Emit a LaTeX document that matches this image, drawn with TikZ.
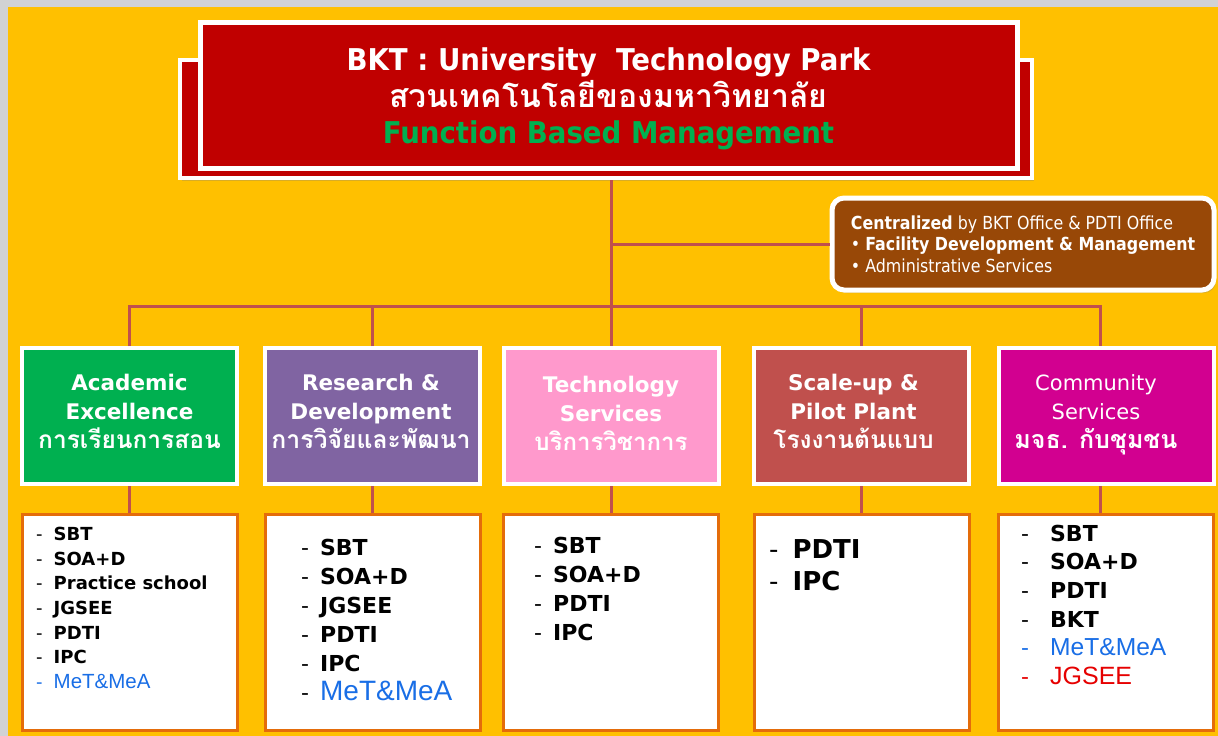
\documentclass[tikz,border=0pt]{standalone}
\usepackage{fontspec}
\setmainfont{DejaVu Sans}
\newfontfamily\verd{DejaVu Sans}
\newfontfamily\taho[FakeStretch=0.88]{DejaVu Sans}
\newfontfamily\narrowf[FakeStretch=0.92]{DejaVu Sans}
\newfontfamily\arialf{Liberation Sans}
\newfontfamily\thai[Script=Thai]{Loma}
\usetikzlibrary{shadows}
\definecolor{bgyellow}{HTML}{FFC000}
\definecolor{bggray}{HTML}{D1D2D4}
\definecolor{titlered}{HTML}{C00000}
\definecolor{fgreen}{HTML}{00B050}
\definecolor{conncol}{HTML}{C0504D}
\definecolor{cbrown}{HTML}{984807}
\definecolor{cpurple}{HTML}{8064A2}
\definecolor{cpink}{HTML}{FF99CC}
\definecolor{cscale}{HTML}{C0504D}
\definecolor{cmag}{HTML}{D20090}
\definecolor{lorange}{HTML}{E46C0A}
\definecolor{lblue}{RGB}{25,110,230}
\definecolor{lred}{RGB}{230,0,0}
\tikzset{
  conn/.style={draw=conncol, line width=3pt},
  catbox/.style={draw=white, line width=4pt, minimum width=215pt, minimum height=136pt,
     inner sep=0pt, drop shadow={opacity=0.25, shadow xshift=2pt, shadow yshift=-2pt}},
  catlabel/.style={text=white, align=center, inner sep=0pt, yshift=5pt,
     font={\fontsize{21.5}{29}\selectfont}},
  listbox/.style={draw=lorange, fill=white, line width=3pt, minimum width=215pt, minimum height=216pt, inner sep=0pt},
  listtext/.style={anchor=north west, inner sep=0pt, align=left},
}
\begin{document}
\begin{tikzpicture}[x=1pt,y=1pt]
\fill[bggray] (0,0) rectangle (1218,-736);
\fill[bgyellow] (8,-7) rectangle (1218,-736);
\useasboundingbox (0,0) rectangle (1218,-736);
% title boxes
\node[draw=white, fill=titlered, line width=4pt, minimum width=852pt, minimum height=118pt,
  drop shadow={opacity=0.3, shadow xshift=2pt, shadow yshift=-3pt}] (back) at (606,-119) {};
\node[draw=white, fill=titlered, line width=5pt, minimum width=817pt, minimum height=146pt,
  drop shadow={opacity=0.3, shadow xshift=2pt, shadow yshift=-3pt},
  label={[align=center, inner sep=0pt, yshift=-4pt, font={\fontsize{30}{36.5}\selectfont}]center:
   {\narrowf\bfseries\color{white}BKT : University\ \ Technology Park}\\
   {\fontsize{32}{36.5}\selectfont\thai\bfseries\color{white}สวนเทคโนโลยีของมหาวิทยาลัย}\\
   {\narrowf\bfseries\color{fgreen}Function Based Management}}] (title) at (608.5,-95) {};
% centralized box
\node[draw=white, fill=cbrown, line width=5pt, rounded corners=12pt, minimum width=382pt, minimum height=92pt,
  inner sep=0pt, text=white, align=left, font={\fontsize{18}{21.5}\selectfont\taho},
  drop shadow={opacity=0.3, shadow xshift=2pt, shadow yshift=-3pt}] (central) at (1023,-244)
  {{\bfseries Centralized} by BKT Office \& PDTI Office\\
   \textbullet\ {\bfseries Facility Development \& Management}\\
   \textbullet\ Administrative Services};
% category boxes
\node[catbox, fill=fgreen, label={[catlabel]center:
   {\verd\bfseries Academic}\\ {\verd\bfseries Excellence}\\
   {\fontsize{24.5}{29}\selectfont\thai\bfseries การเรียนการสอน}}] (c1) at (129.5,-416) {};
\node[catbox, fill=cpurple, label={[catlabel, xshift=-1.5pt]center:
   {\verd\bfseries Research \&}\\ {\verd\bfseries Development}\\
   {\fontsize{24.8}{29}\selectfont\thai\bfseries การวิจัยและพัฒนา}}] (c2) at (372.5,-416) {};
\node[catbox, fill=cpink, label={[catlabel, yshift=-2pt]center:
   {\verd\bfseries Technology}\\ {\verd\bfseries Services}\\
   {\fontsize{24}{29}\selectfont\thai\bfseries บริการวิชาการ}}] (c3) at (611,-416) {};
\node[catbox, fill=cscale, label={[catlabel, xshift=-8pt]center:
   {\verd\bfseries Scale-up \&}\\ {\verd\bfseries Pilot Plant}\\
   {\fontsize{24.5}{29}\selectfont\thai\bfseries โรงงานต้นแบบ}}] (c4) at (861.5,-416) {};
\node[catbox, fill=cmag, label={[catlabel, xshift=-10pt, yshift=-4pt]center:
   {\fontsize{21}{29}\selectfont\verd Community}\\ {\fontsize{21}{29}\selectfont\verd Services}\\
   {\fontsize{25}{29}\selectfont\thai\bfseries มจธ. กับชุมชน}}] (c5) at (1106,-416) {};
% list boxes
\node[listbox] (l1) at (129.5,-622) {};
\node[listbox] (l2) at (372.5,-622) {};
\node[listbox] (l3) at (611,-622) {};
\node[listbox] (l4) at (861.5,-622) {};
\node[listbox] (l5) at (1106,-622) {};
% list texts
\node[listtext] (t1) at (36,-523) {\fontsize{18}{24.7}\selectfont\verd
  \begin{tabular}{@{}l@{\hspace{11pt}}l@{}}
  - & \bfseries SBT\\ - & \bfseries SOA+D\\ - & \bfseries Practice school\\ - & \bfseries JGSEE\\
  - & \bfseries PDTI\\ - & \bfseries IPC\\ \color{lblue}- & \color{lblue}\fontsize{20.5}{24.7}\selectfont\arialf MeT\&MeA
  \end{tabular}};
\node[listtext] (t2) at (301,-535) {\fontsize{22}{29}\selectfont\verd
  \begin{tabular}{@{}l@{\hspace{11pt}}l@{}}
  - & \bfseries SBT\\ - & \bfseries SOA+D\\ - & \bfseries JGSEE\\ - & \bfseries PDTI\\
  - & \bfseries IPC\\ - & \color{lblue}\fontsize{28}{29}\selectfont\arialf MeT\&MeA
  \end{tabular}};
\node[listtext] (t3) at (534,-533) {\fontsize{22}{29}\selectfont\verd
  \begin{tabular}{@{}l@{\hspace{11pt}}l@{}}
  - & \bfseries SBT\\ - & \bfseries SOA+D\\ - & \bfseries PDTI\\ - & \bfseries IPC
  \end{tabular}};
\node[listtext] (t4) at (769,-536) {\fontsize{26}{32}\selectfont\verd
  \begin{tabular}{@{}l@{\hspace{14pt}}l@{}}
  - & \bfseries PDTI\\ - & \bfseries IPC
  \end{tabular}};
\node[listtext] (t5) at (1021,-521) {\fontsize{22}{28.6}\selectfont\verd
  \begin{tabular}{@{}l@{\hspace{21pt}}l@{}}
  - & \bfseries SBT\\ - & \bfseries SOA+D\\ - & \bfseries PDTI\\ - & \bfseries BKT\\
  \color{lblue}- & \color{lblue}\fontsize{24.6}{28.6}\selectfont\arialf MeT\&MeA\\
  \color{lred}- & \color{lred}\fontsize{25}{28.6}\selectfont\arialf JGSEE
  \end{tabular}};
% connectors
\draw[conn] (back.south -| c3.north) -- (c3.north);
\draw[conn] (c3.north |- central.west) -- (central.west);
\draw[conn] (c1.north) -- ++(0,40) -| ([xshift=-6pt]c5.north);
\draw[conn] (c2.north) -- ++(0,40);
\draw[conn] (c4.north) -- ++(0,40);
\draw[conn] (c1.south) -- (l1.north);
\draw[conn] (c2.south) -- (l2.north);
\draw[conn] (c3.south) -- (l3.north);
\draw[conn] (c4.south) -- (l4.north);
\draw[conn] ([xshift=-6pt]c5.south) -- ([xshift=-6pt]l5.north);
\end{tikzpicture}
\end{document}
